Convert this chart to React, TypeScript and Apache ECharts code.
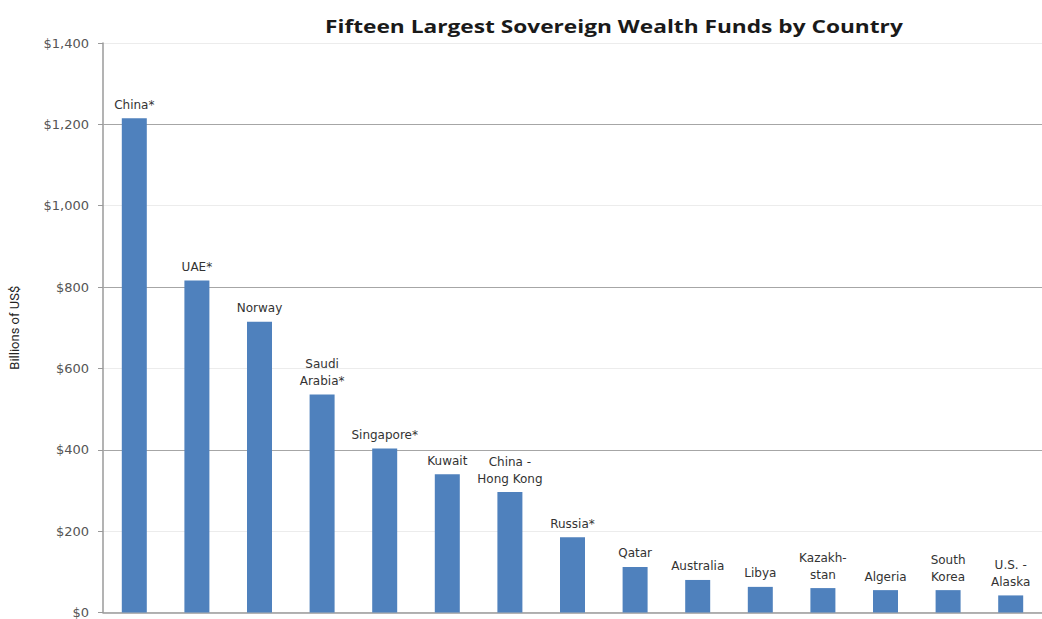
import React, { useEffect, useRef } from "react";
import * as echarts from "echarts";

const categories = [
  "China*",
  "UAE*",
  "Norway",
  "Saudi\nArabia*",
  "Singapore*",
  "Kuwait",
  "China -\nHong Kong",
  "Russia*",
  "Qatar",
  "Australia",
  "Libya",
  "Kazakh-\nstan",
  "Algeria",
  "South\nKorea",
  "U.S. -\nAlaska",
];
const values = [1215, 816, 715, 536, 403, 340, 296, 185, 112, 80, 63, 60, 55, 55, 42];
const majorLines = [400, 800, 1200];
const yTicks = { min: 0, max: 1400, interval: 200 };
const titleText = "Fifteen Largest Sovereign Wealth Funds by Country";

const FONT = "'DejaVu Sans', 'Open Sans', sans-serif";

export default function App() {
  const ref = useRef<HTMLDivElement>(null);
  useEffect(() => {
    if (!ref.current) return;
    const chart = echarts.init(ref.current, undefined, { renderer: "svg" });
    chart.setOption({
      animation: false,
      backgroundColor: "#ffffff",
      textStyle: { fontFamily: FONT },
      graphic: [
        {
          type: "text",
          left: 325,
          top: 18,
          style: {
            text: titleText,
            fontFamily: "'Open Sans', sans-serif",
            fontWeight: "bold",
            fontSize: 17,
            fill: "#1a1a1a",
          },
          scaleX: 1.335,
        },
      ],
      grid: { left: 103, right: -6, top: 43, bottom: 1, containLabel: false },
      xAxis: {
        type: "category",
        data: categories,
        axisLine: { lineStyle: { color: "#9a9a9a", width: 1.5 } },
        axisTick: { show: false },
        axisLabel: { show: false },
      },
      yAxis: {
        type: "value",
        min: yTicks.min,
        max: yTicks.max,
        interval: yTicks.interval,
        name: "Billions of US$",
        nameLocation: "middle",
        nameGap: 82,
        nameTextStyle: { fontFamily: "'Liberation Sans Narrow', 'Roboto', sans-serif", fontSize: 13, color: "#222" },
        axisLine: { show: true, lineStyle: { color: "#9a9a9a", width: 1.5 } },
        axisTick: { show: true, length: 5, lineStyle: { color: "#9a9a9a" } },
        axisLabel: {
          fontSize: 13,
          fontFamily: FONT,
          color: "#555",
          margin: 14,
          formatter: (v: number) => "$" + v.toLocaleString("en-US"),
        },
        splitLine: { show: true, lineStyle: { color: "#ececec", width: 1 } },
      },
      series: [
        {
          type: "bar",
          data: values,
          barWidth: 25,
          itemStyle: { color: "#4F81BD" },
          label: {
            show: true,
            position: "top",
            distance: 5,
            formatter: (p: any) => categories[p.dataIndex],
            fontSize: 12,
            lineHeight: 17,
            color: "#333",
            fontFamily: FONT,
          },
          markLine: {
            silent: true,
            symbol: "none",
            label: { show: false },
            lineStyle: { color: "#a6a6a6", type: "solid", width: 1.2 },
            data: majorLines.map((v) => ({ yAxis: v })),
            z: 1,
          },
          z: 3,
        },
      ],
    });
    return () => chart.dispose();
  }, []);
  return (
    <div
      ref={ref}
      style={{ position: "fixed", left: 0, top: 0, width: 1042, height: 619 }}
    />
  );
}
